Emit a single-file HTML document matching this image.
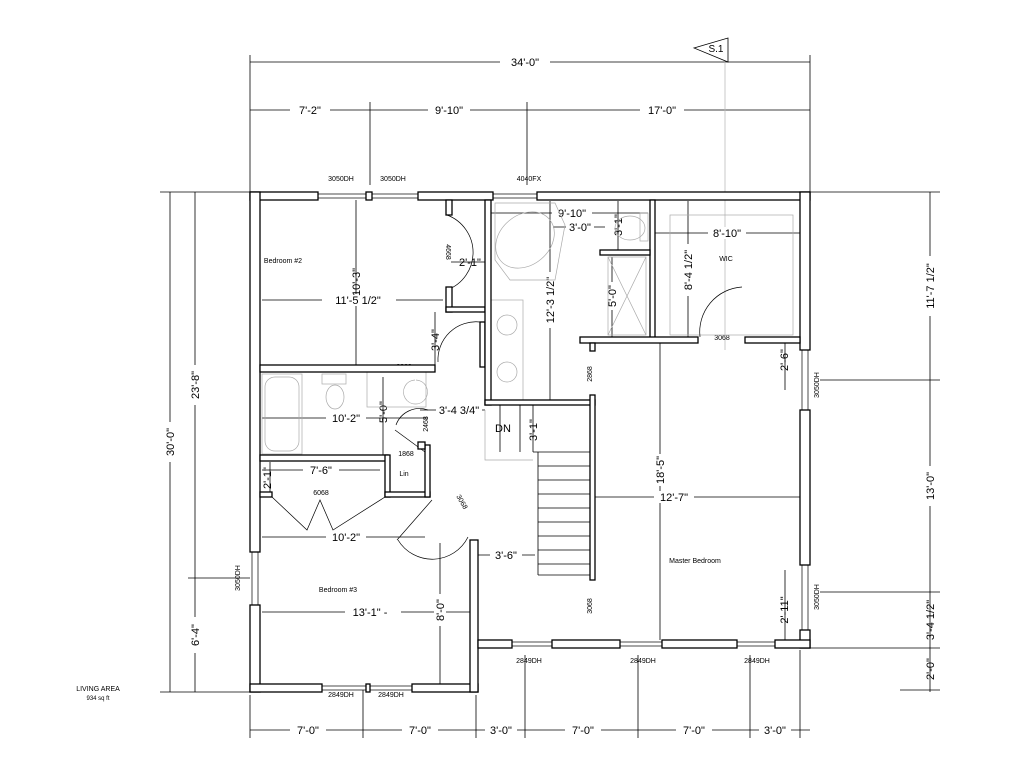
<!DOCTYPE html>
<html><head><style>body{margin:0;background:#fff}svg{display:block}text{font-family:"Liberation Sans",sans-serif;fill:#000}</style></head><body>
<svg width="1024" height="768" viewBox="0 0 1024 768" xmlns="http://www.w3.org/2000/svg">
<g stroke="#000" stroke-width="0.8" fill="none">
<line x1="250" y1="62" x2="810" y2="62"/><line x1="250" y1="55" x2="250" y2="195"/><line x1="810" y1="55" x2="810" y2="195"/>
<line x1="250" y1="110" x2="810" y2="110"/><line x1="370" y1="102" x2="370" y2="185"/><line x1="527" y1="102" x2="527" y2="185"/>
<line x1="170" y1="192" x2="170" y2="692"/><line x1="160" y1="192" x2="250" y2="192"/><line x1="160" y1="692" x2="250" y2="692"/>
<line x1="195" y1="192" x2="195" y2="692"/><line x1="188" y1="578" x2="250" y2="578"/>
<line x1="930" y1="192" x2="930" y2="692"/><line x1="810" y1="192" x2="940" y2="192"/><line x1="820" y1="380" x2="940" y2="380"/><line x1="820" y1="592" x2="940" y2="592"/><line x1="810" y1="648" x2="940" y2="648"/><line x1="900" y1="690" x2="940" y2="690"/>
<line x1="250" y1="730" x2="810" y2="730"/>
<line x1="250" y1="695" x2="250" y2="738"/><line x1="363" y1="690" x2="363" y2="738"/><line x1="476" y1="695" x2="476" y2="738"/><line x1="525" y1="655" x2="525" y2="738"/><line x1="638" y1="655" x2="638" y2="738"/><line x1="750" y1="655" x2="750" y2="738"/><line x1="800" y1="650" x2="800" y2="738"/>
<line x1="725" y1="62" x2="725" y2="350" stroke="#bbb"/>
<line x1="356" y1="200" x2="356" y2="365"/><line x1="262" y1="300" x2="443" y2="300"/>
<line x1="262" y1="418" x2="428" y2="418"/><line x1="383" y1="377" x2="383" y2="455"/>
<line x1="262" y1="470" x2="380" y2="470"/><line x1="262" y1="537" x2="425" y2="537"/>
<line x1="262" y1="612" x2="470" y2="612"/><line x1="440" y1="543" x2="440" y2="684"/>
<line x1="478" y1="555" x2="535" y2="555"/><line x1="595" y1="497" x2="800" y2="497"/>
<line x1="660" y1="343" x2="660" y2="640"/><line x1="550" y1="201" x2="550" y2="400"/>
<line x1="491" y1="213" x2="648" y2="213"/><line x1="553" y1="227" x2="605" y2="227"/>
<line x1="618" y1="201" x2="618" y2="250"/><line x1="612" y1="257" x2="612" y2="337"/>
<line x1="655" y1="233" x2="800" y2="233"/><line x1="688" y1="201" x2="688" y2="337"/>
<line x1="451" y1="262" x2="485" y2="262"/><line x1="435" y1="312" x2="435" y2="365"/>
<line x1="420" y1="410" x2="485" y2="410"/><line x1="533" y1="405" x2="533" y2="452"/>
<line x1="785" y1="343" x2="785" y2="390"/><line x1="785" y1="570" x2="785" y2="640"/>
<line x1="270" y1="462" x2="270" y2="492"/>
</g>
<g fill="#000" font-size="11" text-anchor="middle">
<rect x="500" y="56" width="50" height="12" fill="#fff"/><text x="525" y="66">34'-0"</text>
<rect x="290" y="104" width="40" height="12" fill="#fff"/><text x="310" y="114">7'-2"</text>
<rect x="428" y="104" width="42" height="12" fill="#fff"/><text x="449" y="114">9'-10"</text>
<rect x="640" y="104" width="44" height="12" fill="#fff"/><text x="662" y="114">17'-0"</text>
<g transform="translate(174,442) rotate(-90)"><rect x="-20" y="-10" width="40" height="12" fill="#fff"/><text>30'-0"</text></g>
<g transform="translate(199,385) rotate(-90)"><rect x="-20" y="-10" width="40" height="12" fill="#fff"/><text>23'-8"</text></g>
<g transform="translate(199,635) rotate(-90)"><rect x="-18" y="-10" width="36" height="12" fill="#fff"/><text>6'-4"</text></g>
<g transform="translate(934,286) rotate(-90)"><rect x="-30" y="-10" width="60" height="12" fill="#fff"/><text>11'-7 1/2"</text></g>
<g transform="translate(934,486) rotate(-90)"><rect x="-20" y="-10" width="40" height="12" fill="#fff"/><text>13'-0"</text></g>
<g transform="translate(934,620) rotate(-90)"><text>3'-4 1/2"</text></g>
<g transform="translate(934,669) rotate(-90)"><text>2'-0"</text></g>
<rect x="290" y="724" width="36" height="12" fill="#fff"/><text x="308" y="734">7'-0"</text>
<rect x="402" y="724" width="36" height="12" fill="#fff"/><text x="420" y="734">7'-0"</text>
<rect x="485" y="724" width="32" height="12" fill="#fff"/><text x="501" y="734">3'-0"</text>
<rect x="565" y="724" width="36" height="12" fill="#fff"/><text x="583" y="734">7'-0"</text>
<rect x="676" y="724" width="36" height="12" fill="#fff"/><text x="694" y="734">7'-0"</text>
<rect x="759" y="724" width="32" height="12" fill="#fff"/><text x="775" y="734">3'-0"</text>
<rect x="322" y="294" width="74" height="12" fill="#fff"/><text x="358" y="304">11'-5 1/2"</text>
<g transform="translate(360,282) rotate(-90)"><text>10'-3"</text></g>
<rect x="326" y="412" width="40" height="12" fill="#fff"/><text x="346" y="422">10'-2"</text>
<g transform="translate(387,412) rotate(-90)"><text>5'-0"</text></g>
<rect x="303" y="464" width="36" height="12" fill="#fff"/><text x="321" y="474">7'-6"</text>
<rect x="326" y="531" width="40" height="12" fill="#fff"/><text x="346" y="541">10'-2"</text>
<rect x="345" y="606" width="56" height="12" fill="#fff"/><text x="370" y="616">13'-1" -</text>
<g transform="translate(444,610) rotate(-90)"><rect x="-16" y="-10" width="32" height="12" fill="#fff"/><text>8'-0"</text></g>
<rect x="490" y="549" width="32" height="12" fill="#fff"/><text x="506" y="559">3'-6"</text>
<rect x="654" y="491" width="40" height="12" fill="#fff"/><text x="674" y="501">12'-7"</text>
<g transform="translate(664,470) rotate(-90)"><rect x="-16" y="-10" width="32" height="12" fill="#fff"/><text>18'-5"</text></g>
<g transform="translate(554,300) rotate(-90)"><rect x="-28" y="-10" width="56" height="12" fill="#fff"/><text>12'-3 1/2"</text></g>
<rect x="552" y="207" width="40" height="12" fill="#fff"/><text x="572" y="217">9'-10"</text>
<rect x="566" y="221" width="28" height="12" fill="#fff"/><text x="580" y="231">3'-0"</text>
<g transform="translate(622,225) rotate(-90)"><text>3'-1"</text></g>
<g transform="translate(616,296) rotate(-90)"><rect x="-14" y="-10" width="28" height="12" fill="#fff"/><text>5'-0"</text></g>
<rect x="708" y="227" width="38" height="12" fill="#fff"/><text x="727" y="237">8'-10"</text>
<g transform="translate(692,270) rotate(-90)"><rect x="-26" y="-10" width="52" height="12" fill="#fff"/><text>8'-4 1/2"</text></g>
<text x="470" y="266">2'-1"</text>
<g transform="translate(439,340) rotate(-90)"><text>3'-4"</text></g>
<rect x="436" y="404" width="46" height="12" fill="#fff"/><text x="459" y="414">3'-4 3/4"</text>
<g transform="translate(537,430) rotate(-90)"><text>3'-1"</text></g>
<g transform="translate(788,360) rotate(-90)"><text>2'-6"</text></g>
<g transform="translate(788,610) rotate(-90)"><text>2'-11"</text></g>
<g transform="translate(271,478) rotate(-90)"><text>2'-1"</text></g>
<text x="503" y="432">DN</text>
</g>
<g font-size="7" text-anchor="middle">
<text x="341" y="181">3050DH</text><text x="393" y="181">3050DH</text><text x="529" y="181">4040FX</text>
<text x="341" y="697">2849DH</text><text x="391" y="697">2849DH</text>
<text x="529" y="663">2849DH</text><text x="643" y="663">2849DH</text><text x="757" y="663">2849DH</text>
<text x="283" y="263">Bedroom #2</text><text x="338" y="592">Bedroom #3</text>
<text x="695" y="563">Master Bedroom</text><text x="726" y="261">WIC</text>
<text x="722" y="340">3068</text><text x="404" y="369">2868</text><text x="406" y="456">1868</text>
<text x="404" y="476">Lin</text><text x="321" y="495">6068</text>
<g transform="translate(819,385) rotate(-90)"><text>3050DH</text></g>
<g transform="translate(819,597) rotate(-90)"><text>3050DH</text></g>
<g transform="translate(240,578) rotate(-90)"><text>3050DH</text></g>
<g transform="translate(592,374) rotate(-90)"><text>2868</text></g>
<g transform="translate(592,606) rotate(-90)"><text>3068</text></g>
<g transform="translate(428,424) rotate(-90)"><text>2468</text></g>
<g transform="translate(446,252) rotate(90)"><text>4668</text></g>
<g transform="translate(460,503) rotate(60)"><text>3068</text></g>
<text x="98" y="691">LIVING AREA</text><text x="98" y="700" font-size="6">934 sq ft</text>
</g>
<polygon points="694,48 728,38 728,62" fill="#fff" stroke="#000" stroke-width="0.8"/>
<text x="716" y="52" font-size="10" font-family="Liberation Sans" text-anchor="middle">S.1</text>
<g stroke="#aaa" stroke-width="0.7" fill="none">
<polygon points="495,203 555,203 565,225 555,280 510,280 495,260"/><ellipse cx="525" cy="240" rx="32" ry="25" transform="rotate(-40 525 240)"/>
<rect x="262" y="374" width="40" height="80"/><rect x="265" y="377" width="34" height="74" rx="10"/>
<ellipse cx="335" cy="397" rx="9" ry="12"/><rect x="322" y="374" width="24" height="10"/>
<ellipse cx="630" cy="228" rx="15" ry="12"/><rect x="640" y="213" width="8" height="28"/>
<rect x="608" y="257" width="38" height="78"/><line x1="608" y1="257" x2="646" y2="335"/><line x1="646" y1="257" x2="608" y2="335"/>
<rect x="670" y="215" width="123" height="120"/>
<rect x="490" y="300" width="33" height="100"/><circle cx="507" cy="325" r="10"/><circle cx="507" cy="372" r="10"/>
<path d="M415,380 a12,12 0 1 0 1,0"/><rect x="367" y="372" width="59" height="35"/>
<polyline points="485,410 485,460 533,460"/>
</g>
<g stroke="#000" stroke-width="0.7" fill="none">
<path d="M447,215 A40,40 0 0 1 447,290"/><path d="M480,322 A38,38 0 0 0 438,362"/>
<path d="M742,287 A45,45 0 0 0 700,337"/><path d="M428,410 A25,25 0 0 0 396,425"/>
<path d="M398,540 A40,40 0 0 0 468,537"/><line x1="432" y1="500" x2="397" y2="540"/>
<polyline points="272,497 307,530 320,500 333,530 385,497"/>
<line x1="395" y1="430" x2="425" y2="452"/>
</g>
<g stroke="#000" stroke-width="0.8" fill="none">
<line x1="538" y1="452" x2="538" y2="575"/><line x1="538" y1="575" x2="590" y2="575"/>
<line x1="538" y1="452" x2="590" y2="452"/>
<path d="M538,466h52M538,480h52M538,494h52M538,508h52M538,522h52M538,536h52M538,550h52M538,564h52"/>
<path d="M500,405v47M520,405v47M533,452h5"/>
</g>
<g fill="#fff" stroke="#000" stroke-width="1.3">
<rect x="250" y="192" width="68" height="8"/><rect x="366" y="192" width="6" height="8"/><rect x="418" y="192" width="75" height="8"/><rect x="537" y="192" width="273" height="8"/>
<rect x="250" y="192" width="10" height="360"/><rect x="250" y="605" width="10" height="87"/>
<rect x="800" y="192" width="10" height="158"/><rect x="800" y="410" width="10" height="155"/><rect x="800" y="630" width="10" height="18"/>
<rect x="250" y="684" width="72" height="8"/><rect x="366" y="684" width="4" height="8"/><rect x="412" y="684" width="66" height="8"/>
<rect x="470" y="540" width="8" height="152"/>
<rect x="478" y="640" width="34" height="8"/><rect x="552" y="640" width="68" height="8"/><rect x="662" y="640" width="75" height="8"/><rect x="775" y="640" width="35" height="8"/>
<rect x="260" y="365" width="175" height="7"/>
<rect x="260" y="455" width="128" height="6"/><rect x="385" y="455" width="5" height="42"/><rect x="385" y="492" width="45" height="5"/>
<rect x="260" y="492" width="12" height="5"/><rect x="425" y="445" width="5" height="52"/><rect x="418" y="442" width="7" height="7"/>
<rect x="446" y="200" width="6" height="15"/><rect x="446" y="287" width="6" height="25"/><rect x="446" y="307" width="39" height="5"/>
<rect x="480" y="322" width="5" height="45"/>
<rect x="485" y="200" width="6" height="205"/><rect x="485" y="400" width="110" height="5"/>
<rect x="590" y="395" width="5" height="185"/>
<rect x="650" y="200" width="5" height="140"/><rect x="580" y="337" width="118" height="6"/><rect x="745" y="337" width="55" height="6"/>
<rect x="600" y="250" width="50" height="5"/><rect x="590" y="343" width="5" height="8"/>
</g>
<g stroke="#000" stroke-width="0.7" fill="none">
<rect x="318" y="194" width="48" height="4"/><rect x="372" y="194" width="46" height="4"/><rect x="493" y="194" width="44" height="4"/>
<rect x="322" y="686" width="44" height="4"/><rect x="370" y="686" width="42" height="4"/>
<rect x="512" y="642" width="40" height="4"/><rect x="620" y="642" width="42" height="4"/><rect x="737" y="642" width="38" height="4"/>
<rect x="802" y="350" width="6" height="60"/><rect x="802" y="565" width="6" height="65"/><rect x="252" y="552" width="6" height="53"/>
</g>
</svg>
</body></html>
